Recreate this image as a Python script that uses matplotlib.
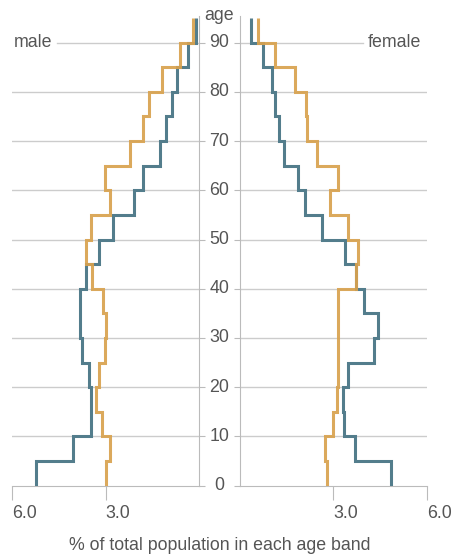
import matplotlib
matplotlib.use("Agg")
import matplotlib.pyplot as plt
import matplotlib.transforms as mtransforms
import numpy as np

plt.rcParams["font.family"] = ["Liberation Sans", "DejaVu Sans"]

# age bands 0-5, 5-10, ... 90-95
AGE_EDGES = list(range(0, 100, 5))
AGE_TICKS = [0, 10, 20, 30, 40, 50, 60, 70, 80, 90]

# % of total population in each band, listed from the 0-5 band upwards
male_blue = [5.22, 4.05, 3.48, 3.48, 3.54, 3.77, 3.82, 3.82, 3.64, 3.20,
             2.75, 2.09, 1.79, 1.25, 1.07, 0.86, 0.69, 0.34, 0.11]
male_gold = [2.97, 2.86, 3.11, 3.32, 3.21, 3.02, 2.97, 3.09, 3.43, 3.63,
             3.48, 2.86, 3.02, 2.20, 1.79, 1.60, 1.20, 0.62, 0.18]
female_blue = [4.86, 3.68, 3.34, 3.30, 3.45, 4.29, 4.43, 3.97, 3.73, 3.38,
               2.64, 2.09, 1.85, 1.41, 1.24, 1.13, 1.02, 0.73, 0.35]
female_gold = [2.80, 2.73, 2.98, 3.11, 3.13, 3.13, 3.13, 3.13, 3.73, 3.80,
               3.46, 2.89, 3.14, 2.47, 2.16, 2.12, 1.75, 1.13, 0.59]

X_TICKS = [3.0, 6.0]
BLUE = "#537d8c"
GOLD = "#d8a24e"
GRID = "#cccccc"
TXT = "#555555"
FS = 12.8

W, H = 457, 560
fig = plt.figure(figsize=(W / 100, H / 100), dpi=100)
y0 = (H - 485.7) / H
hgt = (485.7 - 16.5) / H
ax_m = fig.add_axes([12 / W, y0, 187 / W, hgt])
ax_f = fig.add_axes([240 / W, y0, 187 / W, hgt])

for ax, blue, gold in [(ax_m, male_blue, male_gold), (ax_f, female_blue, female_gold)]:
    ax.stairs(blue, AGE_EDGES, orientation="horizontal", baseline=None,
              color=BLUE, lw=2.2, zorder=3)
    ax.stairs(gold, AGE_EDGES, orientation="horizontal", baseline=None,
              color=GOLD, lw=2.2, alpha=0.92, zorder=4)
    ax.set_ylim(0, 95.3)
    ax.set_xticks(X_TICKS)
    ax.set_xticklabels([f"{v:.1f}" for v in X_TICKS], ha="left", color=TXT, fontsize=FS)
    ax.set_yticks(AGE_TICKS)
    ax.set_yticklabels([])
    ax.tick_params(axis="x", length=10, color="#bbbbbb", pad=4)
    ax.tick_params(axis="y", length=4, color="#bbbbbb")
    for s in ax.spines.values():
        s.set_color("#bbbbbb")
    ax.spines["top"].set_visible(False)

ax_m.set_xlim(6, 0)
ax_f.set_xlim(0, 6)
ax_m.spines["left"].set_visible(False)
ax_m.yaxis.tick_right()
ax_m.tick_params(axis="y", labelright=False)
ax_f.spines["right"].set_visible(False)

# horizontal guide lines; the 90 line is broken by the sex labels
for a in AGE_TICKS[1:-1]:
    ax_m.axhline(a, color=GRID, lw=1, zorder=1)
    ax_f.axhline(a, color=GRID, lw=1, zorder=1)
ax_m.axhline(90, xmin=45 / 187, xmax=1, color=GRID, lw=1, zorder=1)
ax_f.axhline(90, xmin=0, xmax=123 / 187, color=GRID, lw=1, zorder=1)
ax_m.text(0.01, 90, "male", transform=mtransforms.blended_transform_factory(ax_m.transAxes, ax_m.transData),
          ha="left", va="center", color=TXT, fontsize=FS)
ax_f.text(0.97, 90, "female", transform=mtransforms.blended_transform_factory(ax_f.transAxes, ax_f.transData),
          ha="right", va="center", color=TXT, fontsize=FS)

# age labels between the two halves
tr = mtransforms.blended_transform_factory(fig.transFigure, ax_m.transData)
xc = 219.5 / W
for a in AGE_TICKS:
    fig.text(xc, a, str(a), transform=tr, ha="center", va="center", color=TXT, fontsize=FS)
fig.text(xc, 1 - 16 / H, "age", ha="center", va="center", color=TXT, fontsize=FS)

fig.text(xc, 1 - 545 / H, "% of total population in each age band",
         ha="center", va="center", color=TXT, fontsize=FS)

fig.savefig("out.png", dpi=100)
